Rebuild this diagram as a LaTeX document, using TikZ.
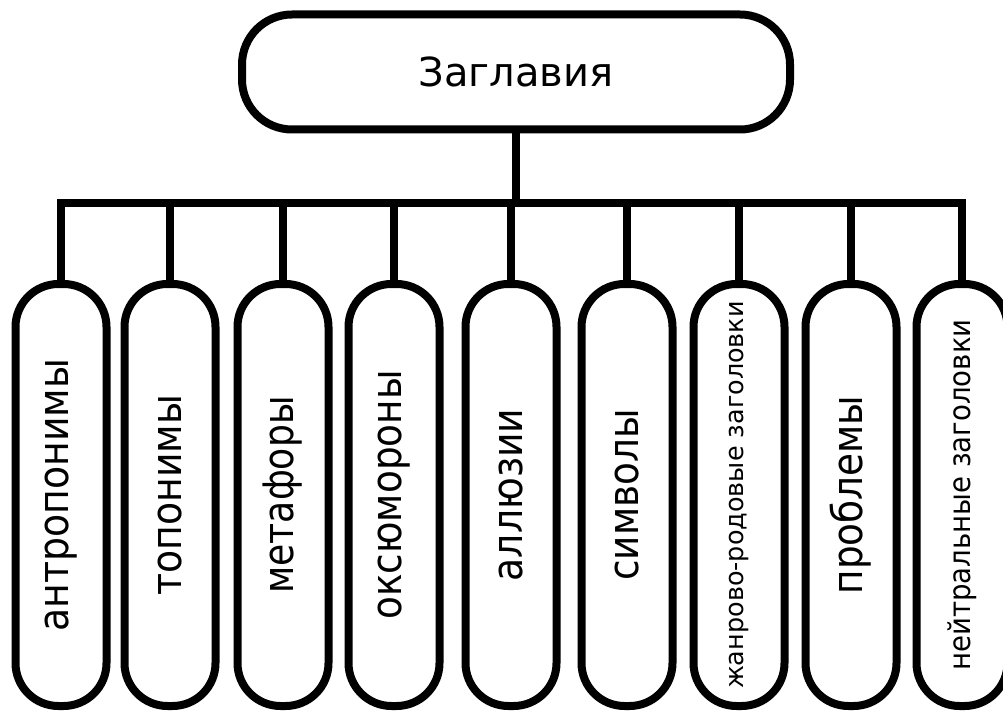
\documentclass[tikz,border=0pt]{standalone}
\usepackage{fontspec}
\setmainfont{DejaVu Sans}
\newcommand{\squeeze}[2]{\scalebox{#1}[1]{#2}}
\begin{document}
\begin{tikzpicture}[x=1pt,y=-1pt,
  line/.style={line width=8pt},
  topbox/.style={draw, line width=8pt, rounded corners=50pt, minimum width=548pt, minimum height=115pt, inner sep=0pt},
  catbox/.style={draw, line width=8pt, rounded corners=43pt, rotate=90, minimum width=422pt, minimum height=91pt, inner sep=0pt},
  big/.style={font=\fontsize{42}{42}\selectfont},
  mid/.style={font=\fontsize{30}{30}\selectfont},
  small/.style={font=\fontsize{25.5}{25.5}\selectfont}]
\useasboundingbox (0,0) rectangle (1003,711);
\node[topbox, font=\fontsize{40}{40}\selectfont] (t) at (516,72) {Заглавия};
\node[catbox, big] (b1) at (61,495) {\squeeze{0.9}{антропонимы}};
\node[catbox, big] (b2) at (170,495) {\squeeze{0.9}{топонимы}};
\node[catbox, big] (b3) at (283,495) {\squeeze{0.86}{метафоры}};
\node[catbox, big] (b4) at (394,495) {\squeeze{0.89}{оксюмороны}};
\node[catbox, big] (b5) at (511,495) {\squeeze{0.9}{аллюзии}};
\node[catbox, big] (b6) at (627,495) {\squeeze{0.89}{символы}};
\node[catbox, small] (b7) at (739,495) {жанрово-родовые заголовки};
\node[catbox, big] (b8) at (851,495) {\squeeze{0.89}{проблемы}};
\node[catbox, mid] (b9) at (962,495) {\squeeze{0.92}{нейтральные заголовки}};
\coordinate (bar) at (0,203);
\draw[line] (b1.east) -- (b1.east |- bar) -- (b9.east |- bar) -- (b9.east);
\draw[line] (t.south) -- (t.south |- bar);
\foreach \i in {2,...,8} {\draw[line] (b\i.east) -- (b\i.east |- bar);}
\end{tikzpicture}
\end{document}
